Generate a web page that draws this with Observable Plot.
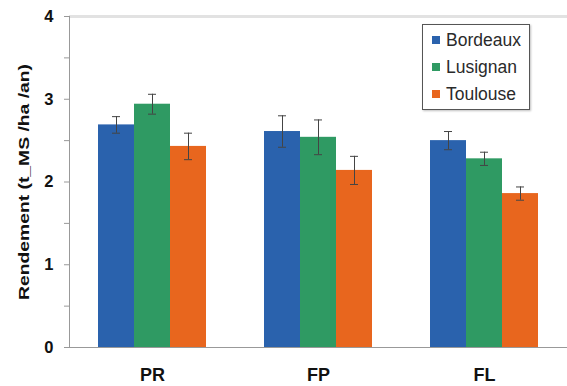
<!DOCTYPE html>
<html>
<head>
<meta charset="utf-8">
<script src="https://cdn.jsdelivr.net/npm/d3@7"></script>
<script src="https://cdn.jsdelivr.net/npm/@observablehq/plot@0.6"></script>
<style>
  html, body { margin: 0; padding: 0; background: #fff; }
  #wrap { position: relative; width: 567px; height: 386px; font-family: "Liberation Sans", Arial, sans-serif; }
  #legend { position: absolute; left: 422px; top: 24px; width: 108px; height: 86px; border: 1.5px solid #555; background: #fff; box-shadow: 1px 1px 2px rgba(0,0,0,0.25); box-sizing: border-box; }
  .item { position: absolute; left: 9px; font-size: 17.5px; color: #2a2a2a; line-height: 20px; white-space: nowrap; }
  .sw { display: inline-block; width: 8px; height: 8px; margin-right: 6px; vertical-align: 2px; }
</style>
</head>
<body>
<div id="wrap"><div id="chart"></div><div id="legend"></div></div>
<script>
const categories = ["PR", "FP", "FL"];
const sites = ["Bordeaux", "Lusignan", "Toulouse"];
const colors = ["#2a62ad", "#2f9a63", "#e8661e"];
const bordeaux = [2.69, 2.61, 2.50];
const lusignan = [2.94, 2.54, 2.28];
const toulouse = [2.43, 2.14, 1.86];
const errBordeaux = [0.10, 0.19, 0.11];
const errLusignan = [0.12, 0.21, 0.08];
const errToulouse = [0.16, 0.17, 0.08];
const yTicks = [0, 1, 2, 3, 4];
const yMinorTicks = [0.5, 1.5, 2.5, 3.5];

const values = [bordeaux, lusignan, toulouse];
const errs = [errBordeaux, errLusignan, errToulouse];
const data = [];
categories.forEach((c, i) => sites.forEach((s, j) => {
  data.push({cat: c, site: s, v: values[j][i], e: errs[j][i]});
}));

const chart = Plot.plot({
  width: 567,
  height: 386,
  marginLeft: 68,
  marginRight: 0,
  marginTop: 16,
  marginBottom: 39,
  style: {fontFamily: "Liberation Sans, Arial, sans-serif", background: "#fff"},
  fx: {domain: categories, paddingInner: 0, paddingOuter: 0, label: null, axis: null},
  x: {domain: sites, paddingInner: 0, paddingOuter: 0.76, axis: null},
  y: {domain: [0, 4]},
  color: {domain: sites, range: colors},
  marks: [
    Plot.ruleY([4], {stroke: "#e2e2e2", strokeWidth: 3}),
    Plot.barY(data, {fx: "cat", x: "site", y: "v", fill: "site"}),
    Plot.ruleX(data, {fx: "cat", x: "site", y1: d => d.v - d.e, y2: d => d.v + d.e, stroke: "#444", strokeWidth: 1}),
    Plot.tickY(data, {fx: "cat", x: "site", y: d => d.v - d.e, stroke: "#444", insetLeft: 14, insetRight: 14}),
    Plot.tickY(data, {fx: "cat", x: "site", y: d => d.v + d.e, stroke: "#444", insetLeft: 14, insetRight: 14}),
    Plot.axisY({ticks: yTicks, tickFormat: "d", tickSize: 5, tickPadding: 11, stroke: "#999", fontSize: 16.5, fontWeight: "bold", fill: "#111",
      label: "Rendement (t_MS /ha /an)", labelAnchor: "center", labelArrow: "none", labelOffset: 51}),
    Plot.axisY({ticks: yMinorTicks, tickSize: 5, tickFormat: () => "", stroke: "#999", label: null}),
    Plot.axisFx({anchor: "bottom", tickSize: 0, tickPadding: 21, fontSize: 18, fontWeight: "bold", fill: "#111", label: null}),
    Plot.ruleY([0], {stroke: "#999"}),
    Plot.frame({anchor: "left", facet: "super", stroke: "#999"})
  ]
});
document.getElementById("chart").appendChild(chart);
chart.querySelectorAll("g[aria-label='y-axis label']").forEach(g => {
  g.setAttribute("font-size", "15"); g.setAttribute("font-weight", "bold"); g.setAttribute("fill", "#111");
  g.querySelectorAll("text").forEach(t => {
    t.setAttribute("font-size", "15");
    t.setAttribute("textLength", "236");
    t.setAttribute("lengthAdjust", "spacingAndGlyphs");
  });
});

const legend = document.getElementById("legend");
sites.forEach((s, j) => {
  const d = document.createElement("div");
  d.className = "item";
  d.style.top = (5 + j * 27) + "px";
  d.innerHTML = `<span class="sw" style="background:${colors[j]}"></span>${s}`;
  legend.appendChild(d);
});
</script>
</body>
</html>
